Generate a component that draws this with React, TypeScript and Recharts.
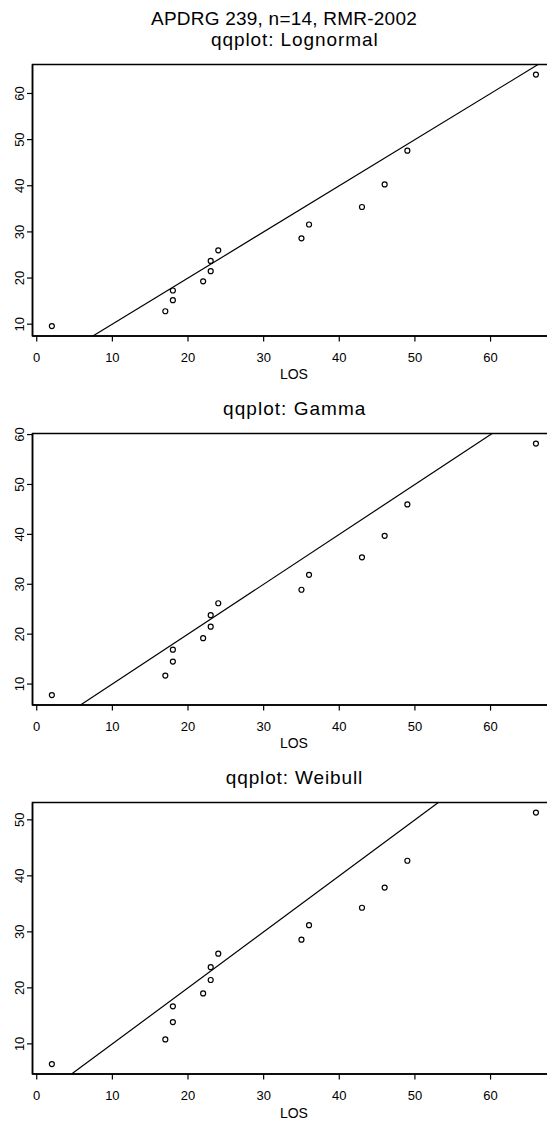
import React from "react";
import { ScatterChart, Scatter, XAxis, YAxis, ReferenceLine, ReferenceArea } from "recharts";

// LOS (observed length of stay) values, sorted
const los = [2, 17, 18, 18, 22, 23, 23, 24, 35, 36, 43, 46, 49, 66];
// theoretical quantiles
const lognormalQ = [9.6, 12.8, 15.2, 17.3, 19.3, 21.5, 23.7, 26.0, 28.6, 31.6, 35.4, 40.3, 47.6, 64.1];
const gammaQ = [7.8, 11.7, 14.5, 16.9, 19.2, 21.5, 23.8, 26.2, 28.9, 31.9, 35.4, 39.7, 46.0, 58.2];
const weibullQ = [6.4, 10.8, 13.9, 16.7, 19.0, 21.4, 23.7, 26.1, 28.6, 31.2, 34.3, 37.9, 42.7, 51.3];

const xTicks = [0, 10, 20, 30, 40, 50, 60];
const yTicksLognormal = [10, 20, 30, 40, 50, 60];
const yTicksGamma = [10, 20, 30, 40, 50, 60];
const yTicksWeibull = [10, 20, 30, 40, 50];

const mainTitle = "APDRG 239, n=14, RMR-2002";
const xLabel = "LOS";

const FONT = "'Liberation Sans', Arial, Helvetica, sans-serif";

function rExtend(vals: number[]): [number, number] {
  const lo = Math.min(...vals);
  const hi = Math.max(...vals);
  const d = (hi - lo) * 0.04;
  return [lo - d, hi + d];
}

const CircleShape = (props: any) => {
  const { cx, cy } = props;
  if (cx == null || cy == null) return null;
  return <circle cx={cx} cy={cy} r={2.5} fill="none" stroke="#000" strokeWidth={1.2} />;
};

const YTick = (props: any) => {
  const { x, y, payload } = props;
  return (
    <text
      x={x}
      y={y}
      transform={`rotate(-90, ${x}, ${y})`}
      textAnchor="middle"
      fontSize={13}
      fontFamily={FONT}
      fill="#000"
    >
      {payload.value}
    </text>
  );
};

const CHART_W = 560;
const PLOT_LEFT = 32.5;
const PLOT_TOP = 64.5;
const PLOT_H = 271.6;
const XAXIS_H = 38;
const CHART_H = PLOT_TOP + PLOT_H + XAXIS_H;
const PLOT_W = 522.8;

function Panel({ q, yTicks, top }: { q: number[]; yTicks: number[]; top: number }) {
  const data = los.map((x, i) => ({ x, y: q[i] }));
  const xd = rExtend(los);
  const yd = rExtend(q);
  const lo = Math.max(xd[0], yd[0]);
  const hi = Math.min(xd[1], yd[1]);
  return (
    <div style={{ position: "absolute", left: 0, top, width: CHART_W, height: CHART_H }}>
      <ScatterChart
        width={CHART_W}
        height={CHART_H}
        margin={{ top: PLOT_TOP, left: 0, right: CHART_W - PLOT_LEFT - PLOT_W, bottom: 0 }}
      >
        <XAxis
          type="number"
          dataKey="x"
          domain={xd}
          ticks={xTicks}
          allowDataOverflow
          height={XAXIS_H}
          tickSize={5.5}
          tickMargin={10.7}
          stroke="#000"
          tick={{ fill: "#000", fontSize: 13, fontFamily: FONT }}
          axisLine={{ stroke: "#000", strokeWidth: 1.5 }}
          tickLine={{ stroke: "#000", strokeWidth: 1.2 }}
          interval={0}
        />
        <YAxis
          type="number"
          dataKey="y"
          domain={yd}
          ticks={yTicks}
          allowDataOverflow
          width={PLOT_LEFT}
          tickSize={5.5}
          tickMargin={3}
          stroke="#000"
          tick={<YTick />}
          axisLine={{ stroke: "#000", strokeWidth: 1.5 }}
          tickLine={{ stroke: "#000", strokeWidth: 1.2 }}
          interval={0}
        />
        <ReferenceArea
          x1={xd[0]}
          x2={xd[1]}
          y1={yd[0]}
          y2={yd[1]}
          fill="none"
          fillOpacity={0}
          stroke="#000"
          strokeWidth={1.5}
          ifOverflow="visible"
        />
        <ReferenceLine
          segment={[
            { x: lo, y: lo },
            { x: hi, y: hi },
          ]}
          stroke="#000"
          strokeWidth={1.2}
          ifOverflow="visible"
        />
        <Scatter data={data} shape={<CircleShape />} isAnimationActive={false} />
      </ScatterChart>
    </div>
  );
}

const panelTops = [0, 368.8, 738.2];

export default function App() {
  const center = PLOT_LEFT + PLOT_W / 2;
  return (
    <div
      style={{
        position: "absolute",
        left: 0,
        top: 0,
        width: 547,
        height: 1124,
        overflow: "hidden",
        background: "#fff",
      }}
    >
      <Panel q={lognormalQ} yTicks={yTicksLognormal} top={panelTops[0]} />
      <Panel q={gammaQ} yTicks={yTicksGamma} top={panelTops[1]} />
      <Panel q={weibullQ} yTicks={yTicksWeibull} top={panelTops[2]} />
      <svg
        width={547}
        height={1124}
        style={{ position: "absolute", left: 0, top: 0, pointerEvents: "none" }}
        fontFamily={FONT}
      >
        <text x={283.9} y={25} textAnchor="middle" fontSize={19} textLength={265.7} fill="#000">
          {mainTitle}
        </text>
        <text x={294.3} y={45.7} textAnchor="middle" fontSize={19} textLength={166.7} fill="#000">
          qqplot: Lognormal
        </text>
        <text x={294.2} y={414.5} textAnchor="middle" fontSize={19} textLength={142.2} fill="#000">
          qqplot: Gamma
        </text>
        <text x={294.0} y={783.9} textAnchor="middle" fontSize={19} textLength={136.4} fill="#000">
          qqplot: Weibull
        </text>
        {panelTops.map((t, i) => (
          <text key={i} x={center} y={t + 379.3} textAnchor="middle" fontSize={14} fill="#000">
            {xLabel}
          </text>
        ))}
      </svg>
    </div>
  );
}
